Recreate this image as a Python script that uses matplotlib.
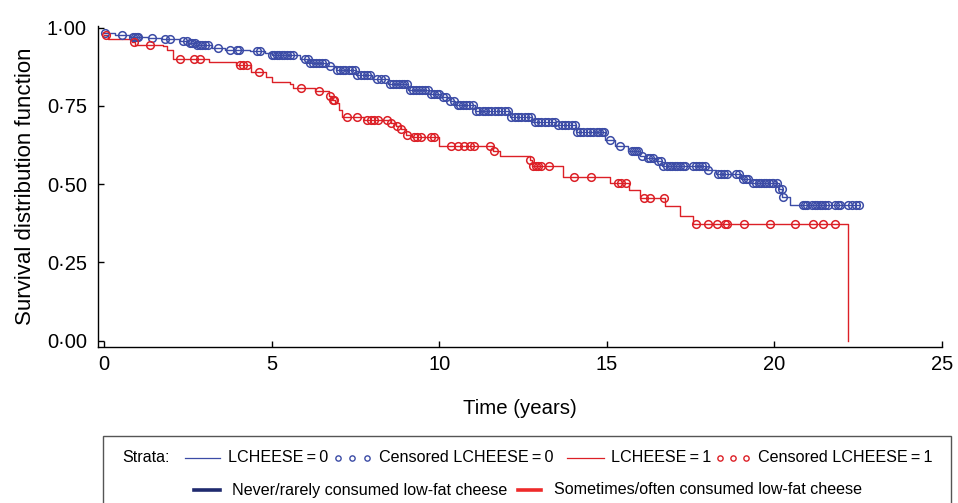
import numpy as np
import matplotlib
matplotlib.use("Agg")
import matplotlib.pyplot as plt
from matplotlib.lines import Line2D
from matplotlib.patches import Rectangle

plt.rcParams['font.family'] = ['Liberation Sans', 'DejaVu Sans']

# Kaplan-Meier steps (time in years, survival after the step)
blue_t = [0.0, 0.33, 0.78, 1.31, 1.73, 2.27, 2.5, 2.75, 3.22, 3.61, 4.36, 4.8, 5.01,
          5.85, 6.15, 6.63, 6.93, 7.52, 8.0, 8.48, 9.07, 9.67, 10.03, 10.33, 10.48,
          11.07, 12.12, 12.78, 13.46, 14.09, 14.96, 15.25, 15.64, 16.0, 16.18, 16.48,
          16.66, 17.97, 18.27, 18.99, 19.28, 20.15, 20.24, 20.48, 22.51]
blue_s = [0.983, 0.975, 0.971, 0.967, 0.962, 0.956, 0.95, 0.943, 0.934, 0.929, 0.924,
          0.918, 0.914, 0.9, 0.887, 0.876, 0.863, 0.847, 0.836, 0.82, 0.8, 0.789, 0.778,
          0.765, 0.752, 0.733, 0.714, 0.698, 0.688, 0.667, 0.64, 0.621, 0.605, 0.59,
          0.582, 0.573, 0.558, 0.545, 0.534, 0.518, 0.505, 0.486, 0.46, 0.433, 0.433]

red_t = [0.0, 0.12, 0.82, 0.93, 1.75, 1.88, 2.06, 3.14, 3.94, 4.37, 4.84, 5.0, 5.56,
         5.65, 6.3, 6.72, 6.8, 6.9, 7.0, 7.1, 7.75, 8.55, 8.72, 8.87, 9.0, 9.2, 10.0,
         11.6, 11.8, 12.7, 12.78, 13.7, 15.1, 15.67, 16.0, 16.73, 17.17, 17.58, 22.19]
red_s = [0.977, 0.964, 0.954, 0.945, 0.941, 0.927, 0.9, 0.89, 0.88, 0.858, 0.842, 0.826,
         0.82, 0.807, 0.796, 0.783, 0.77, 0.76, 0.736, 0.713, 0.706, 0.695, 0.685, 0.675,
         0.656, 0.649, 0.621, 0.605, 0.589, 0.576, 0.557, 0.522, 0.503, 0.48, 0.456,
         0.43, 0.399, 0.372, 0.0]

# censoring times
blue_cens = [0.03, 0.53, 0.87, 0.92, 0.97, 1.01, 1.42, 1.82, 1.97, 2.36, 2.48, 2.57, 2.63,
             2.7, 2.78, 2.85, 2.92, 3.0, 3.1, 3.4, 3.76, 3.97, 4.02, 4.57, 4.66, 5.01, 5.08,
             5.15, 5.22, 5.3, 5.38, 5.46, 5.55, 5.64, 6.0, 6.08, 6.15, 6.24, 6.32, 6.4, 6.5,
             6.6, 6.75, 6.96, 7.05, 7.12, 7.2, 7.3, 7.4, 7.48, 7.56, 7.66, 7.75, 7.85, 7.94,
             8.15, 8.25, 8.39, 8.54, 8.62, 8.7, 8.8, 8.88, 8.96, 9.05, 9.14, 9.22, 9.3, 9.4,
             9.5, 9.58, 9.66, 9.75, 9.84, 9.92, 10.0, 10.1, 10.2, 10.33, 10.45, 10.55, 10.63,
             10.72, 10.8, 10.9, 11.0, 11.1, 11.2, 11.3, 11.38, 11.46, 11.55, 11.65, 11.75,
             11.85, 11.95, 12.05, 12.15, 12.25, 12.35, 12.45, 12.55, 12.65, 12.75, 12.85,
             12.95, 13.05, 13.15, 13.25, 13.35, 13.45, 13.55, 13.65, 13.75, 13.85, 13.95,
             14.05, 14.12, 14.2, 14.3, 14.4, 14.5, 14.6, 14.7, 14.78, 14.86, 14.93, 15.1,
             15.4, 15.76, 15.82, 15.88, 15.94, 16.06, 16.24, 16.3, 16.39, 16.54, 16.62,
             16.69, 16.81, 16.88, 16.95, 17.02, 17.1, 17.18, 17.26, 17.34, 17.58, 17.66,
             17.74, 17.83, 17.94, 18.03, 18.33, 18.42, 18.5, 18.6, 18.84, 18.93, 19.07,
             19.14, 19.22, 19.37, 19.45, 19.53, 19.6, 19.68, 19.76, 19.84, 19.92, 19.97,
             20.09, 20.15, 20.22, 20.27, 20.84, 20.91, 20.98, 21.13, 21.2, 21.28, 21.36,
             21.43, 21.52, 21.61, 21.82, 21.9, 21.97, 22.21, 22.3, 22.42, 22.51]
red_cens = [0.05, 0.9, 1.37, 2.27, 2.69, 2.87, 4.07, 4.16, 4.27, 4.63, 5.88, 6.4, 6.74,
            6.82, 6.87, 7.26, 7.54, 7.86, 7.96, 8.06, 8.16, 8.43, 8.57, 8.75, 8.87, 9.05,
            9.25, 9.35, 9.45, 9.75, 9.85, 10.35, 10.55, 10.75, 10.92, 11.03, 11.5, 11.62,
            12.7, 12.8, 12.88, 12.96, 13.04, 13.28, 14.02, 14.53, 15.33, 15.42, 15.58,
            16.1, 16.3, 16.7, 17.67, 18.03, 18.3, 18.54, 18.6, 19.08, 19.86, 20.6, 21.14,
            21.44, 21.8]

x_ticks = [0, 5, 10, 15, 20, 25]
y_ticks = [0.0, 0.25, 0.5, 0.75, 1.0]
y_tick_labels = ['0\u00b700', '0\u00b725', '0\u00b750', '0\u00b775', '1\u00b700']

BLUE = '#3c4ca6'
RED = '#dc2027'


def step_value(times, surv, at):
    idx = np.searchsorted(times, at, side='right') - 1
    return np.asarray(surv)[idx]


fig = plt.figure(figsize=(9.58, 5.03), dpi=100)
ax = fig.add_axes([0.1023, 0.3101, 0.8810, 0.6382])

ax.step(blue_t, blue_s, where='post', color=BLUE, lw=1.0)
ax.step(red_t, red_s, where='post', color=RED, lw=1.0)
ax.plot(blue_cens, step_value(blue_t, blue_s, blue_cens), 'o', mfc='none', mec=BLUE,
        ms=5.5, mew=1.1, clip_on=False)
ax.plot(red_cens, step_value(red_t, red_s, red_cens), 'o', mfc='none', mec=RED,
        ms=5.5, mew=1.1, clip_on=False)

ax.set_xlim(-0.18, 25)
ax.set_ylim(-0.02, 1.005)
ax.set_xticks(x_ticks)
ax.set_xticklabels([str(t) for t in x_ticks])
ax.set_yticks(y_ticks)
ax.set_yticklabels(y_tick_labels)
for s in ['top', 'right']:
    ax.spines[s].set_visible(False)
for s in ['left', 'bottom']:
    ax.spines[s].set_linewidth(1.0)
ax.tick_params(direction='in', length=4, width=1.0, labelsize=14.5)
ax.tick_params(axis='y', pad=8)
ax.tick_params(axis='x', pad=6)

ax.set_xlabel('Time (years)', fontsize=14.7)
ax.set_ylabel('Survival distribution function', fontsize=16)
ax.xaxis.set_label_coords(0.5, -0.162)
ax.yaxis.set_label_coords(-0.073, 0.5)

# legend box drawn by hand, in figure pixels
W, H = 958.0, 503.0
def fx(px):
    return px / W
def fy(py):
    return 1 - py / H

fig.patches.append(Rectangle((fx(103), fy(520)), fx(951) - fx(103), fy(436) - fy(520),
                             transform=fig.transFigure, fill=False, ec='#555555', lw=1.0,
                             clip_on=False))
lfs = 11.6
y1 = fy(458)
fig.text(fx(122), y1, 'Strata:', fontsize=lfs, va='center')
fig.lines.append(Line2D([fx(185), fx(220)], [y1, y1], transform=fig.transFigure, color=BLUE, lw=0.9))
fig.text(fx(228), y1, 'LCHEESE\u2009=\u20090', fontsize=lfs, va='center')
fig.lines.append(Line2D([fx(338), fx(352), fx(367)], [y1, y1, y1], transform=fig.transFigure,
                        ls='none', marker='o', ms=3.8, mfc='none', mec=BLUE, mew=1.0))
fig.text(fx(379), y1, 'Censored LCHEESE\u2009=\u20090', fontsize=lfs, va='center')
fig.lines.append(Line2D([fx(567), fx(604)], [y1, y1], transform=fig.transFigure, color=RED, lw=0.9))
fig.text(fx(611), y1, 'LCHEESE\u2009=\u20091', fontsize=lfs, va='center')
fig.lines.append(Line2D([fx(720), fx(733), fx(746)], [y1, y1, y1], transform=fig.transFigure,
                        ls='none', marker='o', ms=3.8, mfc='none', mec=RED, mew=1.0))
fig.text(fx(758), y1, 'Censored LCHEESE\u2009=\u20091', fontsize=lfs, va='center')

y2 = fy(490)
fig.lines.append(Line2D([fx(194), fx(220)], [y2, y2], transform=fig.transFigure, color='#1f2a6e', lw=2.6))
fig.text(fx(232), y2, 'Never/rarely consumed low-fat cheese', fontsize=lfs, va='center')
fig.lines.append(Line2D([fx(518), fx(541)], [y2, y2], transform=fig.transFigure, color='#ee2a2a', lw=2.6))
fig.text(fx(554), y2, 'Sometimes/often consumed low-fat cheese', fontsize=lfs, va='center')

fig.savefig('out.png', dpi=100)
